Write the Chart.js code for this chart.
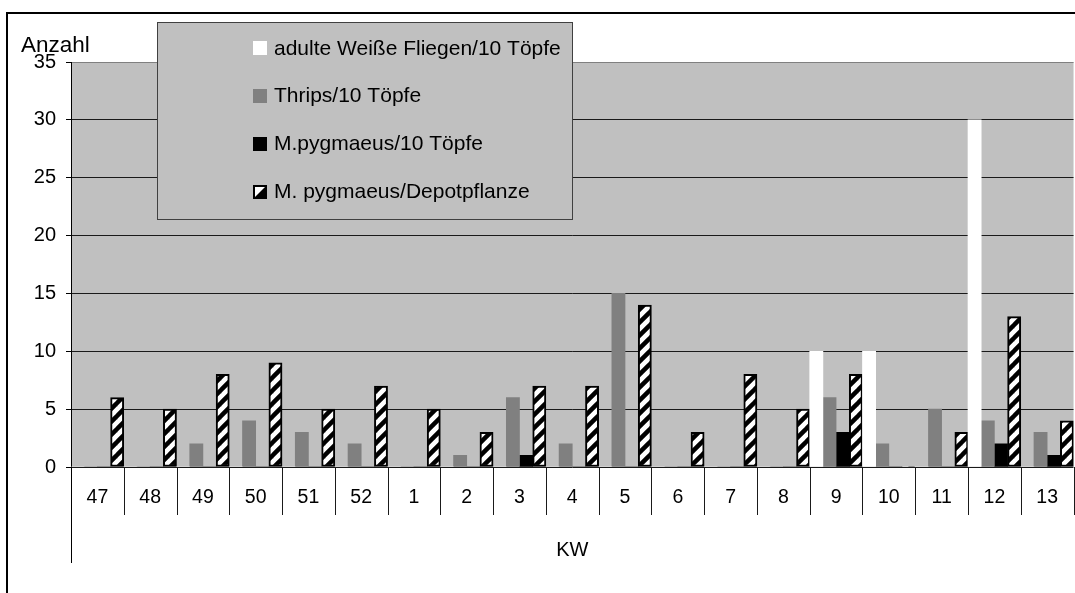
<!DOCTYPE html>
<html>
<head>
<meta charset="utf-8">
<script src="https://cdn.jsdelivr.net/npm/chart.js@4.4.1/dist/chart.umd.min.js"></script>
<style>
  html, body { margin: 0; padding: 0; background: #fff; overflow: hidden; }
  #wrap { position: relative; width: 1075px; height: 593px; overflow: hidden; }
  #wrap canvas { position: absolute; left: 0; top: 0; }
</style>
</head>
<body>
<div id="wrap"><canvas id="c" width="1077" height="593" style="width:1077px;height:593px"></canvas></div>
<script>
// Kalenderwochen (KW) of the survey
const weeks = ['47', '48', '49', '50', '51', '52', '1', '2', '3', '4', '5', '6', '7', '8', '9', '10', '11', '12', '13'];

// Counts per week
const whiteflies    = [0, 0, 0, 0, 0, 0, 0, 0, 0, 0, 0, 0, 0, 0, 10, 10, 0, 30, 0];
const thrips        = [0, 0, 2, 4, 3, 2, 0, 1, 6, 2, 15, 0, 0, 0, 6, 2, 5, 4, 3];
const pygmaeusPots  = [0, 0, 0, 0, 0, 0, 0, 0, 1, 0, 0, 0, 0, 0, 3, 0, 0, 2, 1];
const pygmaeusDepot = [6, 5, 8, 9, 5, 7, 5, 3, 7, 7, 14, 3, 8, 5, 8, 0, 3, 13, 4];

// Series names
const seriesNames = [
  'adulte Weiße Fliegen/10 Töpfe',
  'Thrips/10 Töpfe',
  'M.pygmaeus/10 Töpfe',
  'M. pygmaeus/Depotpflanze'
];

// Value axis
const yMin = 0;
const yMax = 35;
const yStep = 5;

const FONT = "'Liberation Sans', Arial, Helvetica, sans-serif";
Chart.defaults.font.family = FONT;
Chart.defaults.color = '#000';

// Diagonal "/" hatch used for the depot-plant series
function makeHatch() {
  const p = 13;
  const t = document.createElement('canvas');
  t.width = p; t.height = p;
  const g = t.getContext('2d');
  g.fillStyle = '#fff';
  g.fillRect(0, 0, p, p);
  g.strokeStyle = '#000';
  g.lineWidth = 4.5;
  g.lineCap = 'square';
  for (const o of [-p, 0, p]) {
    g.beginPath();
    g.moveTo(o, p);
    g.lineTo(o + p, 0);
    g.stroke();
  }
  return document.getElementById('c').getContext('2d').createPattern(t, 'repeat');
}
const hatch = makeHatch();

// Grey plot-area background
const plotBackground = {
  id: 'plotBackground',
  beforeDraw(chart) {
    const { ctx, chartArea: a } = chart;
    ctx.save();
    ctx.fillStyle = '#c0c0c0';
    ctx.fillRect(a.left, a.top, a.right - a.left, a.bottom - a.top);
    ctx.restore();
  }
};

// Frame, axis extension, category dividers, axis caption and legend box
const decorations = {
  id: 'decorations',
  afterDraw(chart) {
    const { ctx, chartArea: a } = chart;
    const xs = chart.scales.x;
    ctx.save();

    // outer frame (left and top edges)
    ctx.strokeStyle = '#000';
    ctx.lineWidth = 2;
    ctx.beginPath();
    ctx.moveTo(7, 600);
    ctx.lineTo(7, 13);
    ctx.lineTo(1100, 13);
    ctx.stroke();

    // y axis runs down through the category table
    ctx.lineWidth = 1;
    ctx.beginPath();
    ctx.moveTo(Math.round(a.left) + 0.5, a.bottom);
    ctx.lineTo(Math.round(a.left) + 0.5, 563);
    ctx.stroke();

    // category dividers below the baseline
    const n = weeks.length;
    const step = (xs.right - xs.left) / n;
    ctx.strokeStyle = '#1a1a1a';
    ctx.beginPath();
    for (let i = 1; i <= n; i++) {
      const x = Math.round(xs.left + i * step) + 0.5;
      ctx.moveTo(x, a.bottom);
      ctx.lineTo(x, 515);
    }
    ctx.stroke();

    // value-axis caption
    ctx.fillStyle = '#000';
    ctx.font = '22.5px ' + FONT;
    ctx.textAlign = 'left';
    ctx.textBaseline = 'alphabetic';
    ctx.fillText('Anzahl', 21, 52);

    // legend box
    const bx = 157, by = 22, bw = 415, bh = 197;
    ctx.fillStyle = '#c0c0c0';
    ctx.fillRect(bx, by, bw, bh);
    ctx.strokeStyle = '#404040';
    ctx.lineWidth = 1;
    ctx.strokeRect(bx + 0.5, by + 0.5, bw, bh);

    const rows = [48, 95.5, 143.5, 191.5];
    const sx = 253, sz = 14;
    ctx.font = '21px ' + FONT;
    ctx.textBaseline = 'middle';
    chart.data.datasets.forEach((ds, i) => {
      const cy = rows[i];
      const top = Math.round(cy - sz / 2);
      if (i === 3) {
        ctx.fillStyle = '#fff';
        ctx.fillRect(sx, top, sz, sz);
        ctx.fillStyle = '#000';
        ctx.beginPath();
        ctx.moveTo(sx + 2, top + sz - 2);
        ctx.lineTo(sx + sz - 2, top + 2);
        ctx.lineTo(sx + sz - 2, top + sz - 2);
        ctx.closePath();
        ctx.fill();
        ctx.strokeStyle = '#000';
        ctx.lineWidth = 2;
        ctx.strokeRect(sx + 1, top + 1, sz - 2, sz - 2);
      } else {
        ctx.fillStyle = ds.backgroundColor;
        ctx.fillRect(sx, top, sz, sz);
      }
      ctx.fillStyle = '#000';
      ctx.fillText(ds.label, 274, cy + 1);
    });

    ctx.restore();
  }
};

new Chart(document.getElementById('c'), {
  type: 'bar',
  data: {
    labels: weeks,
    datasets: [
      { label: seriesNames[0], data: whiteflies,    backgroundColor: '#ffffff', borderWidth: 0 },
      { label: seriesNames[1], data: thrips,        backgroundColor: '#808080', borderWidth: 0 },
      { label: seriesNames[2], data: pygmaeusPots,  backgroundColor: '#000000', borderWidth: 0 },
      {
        label: seriesNames[3], data: pygmaeusDepot, backgroundColor: hatch,
        borderColor: '#000',
        borderWidth: (c) => (c.raw ? 2 : 0),
        borderSkipped: false
      }
    ]
  },
  options: {
    responsive: false,
    animation: false,
    devicePixelRatio: 1,
    layout: { padding: { left: 0, right: 0, top: 62, bottom: 0 } },
    datasets: { bar: { barPercentage: 1, categoryPercentage: 1 } },
    plugins: {
      legend: { display: false },
      tooltip: { enabled: false },
      title: { display: false }
    },
    scales: {
      x: {
        offset: true,
        grid: { display: false, drawTicks: false },
        border: { display: false },
        ticks: { font: { size: 19.5 }, color: '#000', padding: 19, maxRotation: 0, autoSkip: false },
        title: { display: true, text: 'KW', font: { size: 20 }, color: '#000', padding: { top: 31, bottom: 31 } },
        afterFit(s) { s.height = 126; }
      },
      y: {
        min: yMin,
        max: yMax,
        ticks: { stepSize: yStep, font: { size: 20 }, color: '#000', padding: 10 },
        grid: {
          color: (c) => (c.tick && c.tick.value === yMax ? '#808080' : '#1a1a1a'),
          tickColor: '#000',
          tickLength: 5,
          lineWidth: 1
        },
        border: { display: true, color: '#000', width: 1 },
        afterFit(s) { s.width = 71; }
      }
    }
  },
  plugins: [plotBackground, decorations]
});
</script>
</body>
</html>
